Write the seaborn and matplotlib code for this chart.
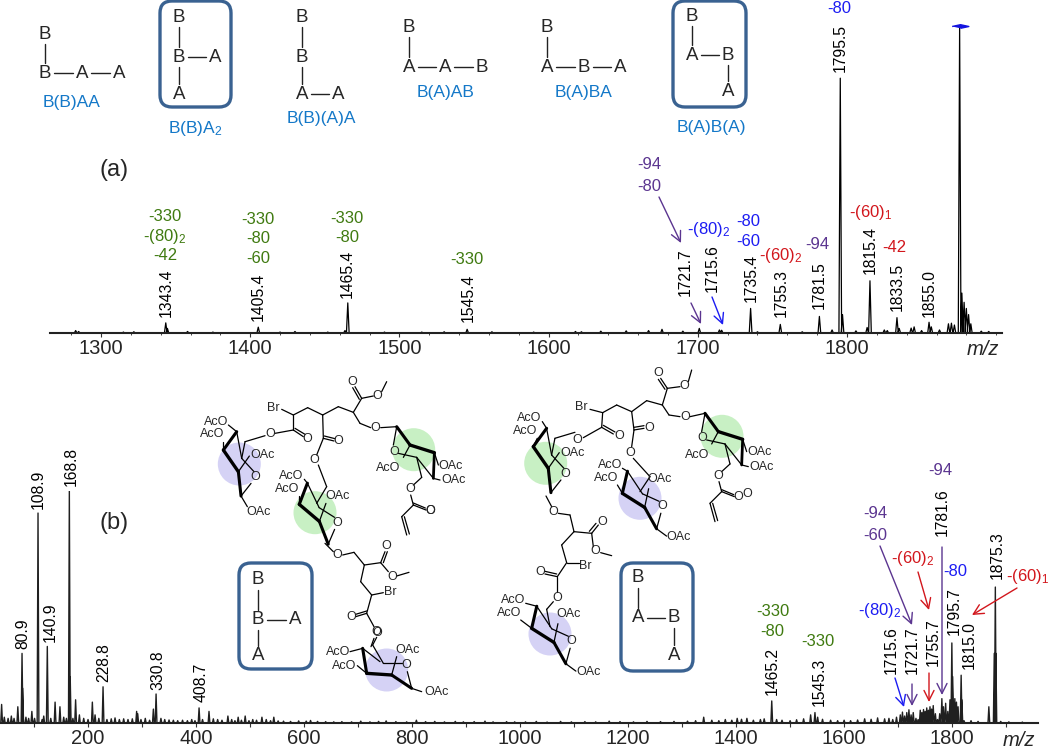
import math

import matplotlib
matplotlib.use("Agg")
import matplotlib.pyplot as plt
from matplotlib.patches import Circle, FancyBboxPatch
from matplotlib.ticker import MultipleLocator
import pandas as pd
import seaborn as sns

# spectrum (a), main peaks: position on the axis and relative height
peaks_a_mz = [1343.4, 1344.5, 1405.4, 1463.5, 1465.4, 1545.4, 1701.0, 1714.5, 1716.0, 1735.4,
              1755.3, 1781.5, 1795.5, 1797.0, 1815.4, 1813.5, 1825.0, 1827.0, 1833.5, 1835.0,
              1843.0, 1845.0, 1855.0, 1856.5, 1868.0, 1870.0, 1872.0, 1875.5, 1877.0, 1878.5,
              1880.0, 1881.5, 1883.0]
peaks_a_int = [3.3, 1.5, 1.9, 0.8, 9.8, 1.2, 1.5, 1.0, 0.9, 8.0,
               2.8, 5.4, 83.0, 6.0, 17.0, 1.8, 1.0, 0.8, 5.0, 1.5,
               1.6, 2.0, 3.5, 2.0, 3.0, 3.2, 2.6, 100.0, 13.0, 10.0,
               8.0, 6.0, 3.0]
noise_a_mz = [1283, 1285, 1315, 1322, 1358, 1375, 1420, 1430, 1452, 1490, 1515, 1530, 1562, 1590, 1618, 1622,
              1635, 1652, 1667, 1676, 1690, 1740, 1770, 1790, 1806, 1850, 1862, 1890, 1895]
noise_a_int = [0.8, 0.5, 0.3, 0.4, 0.5, 0.3, 0.3, 0.5, 0.3, 0.3, 0.3, 0.4, 0.4, 0.3, 0.5, 0.4,
               0.6, 0.7, 0.8, 1.2, 0.6, 0.4, 0.4, 1.0, 0.7, 0.8, 1.0, 0.6, 0.5]

# spectrum (b), main peaks
peaks_b_mz = [40, 70, 77.8, 79, 96, 107.4, 124.6, 139, 148, 165.4, 167, 177, 184, 208, 213, 227.8,
              290, 292, 321, 326, 405.6, 424, 459, 478, 491, 522, 544]
peaks_b_int = [8, 7, 30, 15, 5, 90.5, 33, 9, 7, 100, 20, 10, 3.5, 9, 3.5, 15.6,
               5, 4, 6, 12.5, 6.5, 5, 3, 2.5, 3, 2.5, 2.5]
peaks_b2_mz = [1340, 1402, 1466, 1538, 1546, 1551, 1868, 1878, 1880, 1881, 1799.5, 1801, 1816.7, 1818]
peaks_b2_int = [2.5, 2.0, 9.5, 3.5, 4.5, 2.5, 7, 30, 58.6, 30, 34.5, 20, 20.6, 10]

# crowded group of fragments between 1690 and 1830
crowd_mz = [1690, 1697, 1704, 1708, 1712, 1716, 1720, 1724, 1728, 1733, 1737, 1741, 1744, 1747, 1750, 1753,
            1756, 1759, 1762, 1765, 1769, 1773, 1777, 1781, 1784, 1788, 1792, 1796, 1805, 1808, 1811, 1822]
crowd_int = [1.5, 2.5, 3.5, 4.7, 3.0, 4.5, 5.7, 3.5, 4.5, 2.0, 1.5, 5.5, 4.5, 5.8, 5.0, 6.5,
             5.5, 7.0, 6.0, 7.5, 4.0, 1.5, 4.0, 10.5, 7.0, 8.5, 5.0, 10.0, 10.5, 9.0, 7.0, 1.0]

noise_b_mz = [45, 52, 58, 63, 85, 90, 101, 115, 118, 131, 155, 160, 172, 192, 200, 220, 235, 243, 250, 258,
              266, 274, 282, 298, 306, 314, 335, 342, 350, 358, 366, 375, 384, 392, 398, 412, 432, 440, 448, 466,
              472, 484, 498, 505, 512, 530, 538, 552, 562, 575, 590, 604, 612, 625, 640, 655, 670, 688, 705, 722,
              738, 752, 770, 790, 808, 825, 842, 860, 880, 895, 915, 935, 950, 975, 990, 1010, 1030, 1050, 1075, 1095,
              1120, 1140, 1165, 1185, 1210, 1235, 1260, 1285, 1310, 1325, 1355, 1368, 1380, 1392, 1410, 1420, 1432, 1445, 1452, 1475,
              1485, 1500, 1512, 1525, 1560, 1575, 1588, 1600, 1612, 1625, 1638, 1650, 1662, 1675, 1683, 1835, 1848, 1890, 1905, 1930]
noise_b_int = [2.5, 2, 3, 2, 2.5, 2, 2, 1.5, 3, 2, 2.5, 2, 2, 2, 1.5, 2, 1.5, 1.8, 2.2, 1.5,
               1.8, 1.5, 1.8, 1.5, 2, 1.2, 2, 1.5, 1.3, 1.2, 1, 1.2, 1, 1.5, 1, 1.5, 1.8, 1.5, 1.2, 1.5,
               1, 1.2, 1, 1.5, 1.2, 1.5, 1, 0.9, 0.8, 0.7, 0.9, 0.8, 1.1, 0.7, 0.6, 0.5, 0.6, 0.5, 0.8, 0.5,
               0.7, 0.9, 0.6, 0.5, 1.2, 0.6, 0.7, 0.5, 0.7, 0.5, 0.6, 0.8, 0.5, 0.6, 0.5, 0.5, 0.7, 0.4, 0.7, 0.5,
               0.6, 0.5, 0.8, 0.6, 0.5, 0.7, 0.6, 0.7, 0.8, 1.0, 1.2, 1.0, 1.5, 1.2, 1.6, 2.0, 1.2, 1.5, 1.8, 1.5,
               1.2, 1.0, 1.4, 1.8, 1.6, 1.2, 1.0, 1.2, 1.0, 1.3, 1.8, 1.6, 2.2, 1.8, 2.0, 1.0, 0.7, 0.7, 0.5, 0.4]

ticks_a = [1300, 1400, 1500, 1600, 1700, 1800]
ticks_b = [200, 400, 600, 800, 1000, 1200, 1400, 1600, 1800]

# peak labels: text, x, y in picture pixels
labels_a = [("1343.4", 166, 293), ("1405.4", 258, 297), ("1465.4", 347, 274), ("1545.4", 468, 298),
            ("1721.7", 685, 272), ("1715.6", 712, 268), ("1735.4", 751, 278), ("1755.3", 781, 293),
            ("1781.5", 819, 285), ("1795.5", 840, 48), ("1815.4", 870, 250), ("1833.5", 897, 287),
            ("1855.0", 929, 293)]
labels_b = [("80.9", 23, 634), ("108.9", 38, 489), ("140.9", 50, 622), ("168.8", 71, 466),
            ("228.8", 104, 663), ("330.8", 158, 670), ("408.7", 201, 682), ("1465.2", 772, 671),
            ("1545.3", 819, 682), ("1715.6", 891, 650), ("1721.7", 912, 650), ("1755.7", 933, 642),
            ("1781.6", 942, 512), ("1795.7", 954, 611), ("1815.0", 969, 645), ("1875.3", 997, 555)]

GREEN = "#3f7a10"
PURPLE = "#5b3590"
RED = "#d2161c"
BLUE = "#1c1cf2"
NAME_BLUE = "#1478c8"
FRAME = "#3a6291"

losses = [("-330", 165, 216, GREEN), ("-(80)$_2$", 165, 236, GREEN), ("-42", 165, 255, GREEN),
          ("-330", 258, 219, GREEN), ("-80", 258, 238, GREEN), ("-60", 258, 258, GREEN),
          ("-330", 347, 218, GREEN), ("-80", 347, 237, GREEN), ("-330", 467, 259, GREEN),
          ("-94", 649, 164, PURPLE), ("-80", 649, 186, PURPLE), ("-(80)$_2$", 709, 229, BLUE),
          ("-80", 748, 221, BLUE), ("-60", 748, 241, BLUE), ("-(60)$_2$", 781, 255, RED),
          ("-94", 817, 244, PURPLE), ("-(60)$_1$", 871, 212, RED), ("-42", 894, 247, RED),
          ("-80", 839, 8, BLUE),
          ("-330", 773, 612, GREEN), ("-80", 772, 632, GREEN), ("-330", 818, 641, GREEN),
          ("-94", 875, 514, PURPLE), ("-60", 875, 535, PURPLE), ("-94", 940, 470, PURPLE),
          ("-(60)$_2$", 913, 559, RED), ("-(80)$_2$", 880, 610, BLUE), ("-80", 955, 571, BLUE),
          ("-(60)$_1$", 1028, 576, RED)]

arrows = [((659, 197), (681, 243), PURPLE), ((691, 303), (701, 324), PURPLE), ((712, 297), (723, 325), BLUE),
          ((880, 546), (912, 625), PURPLE), ((918, 572), (929, 610), RED), ((1017, 588), (972, 615), RED),
          ((895, 678), (904, 707), BLUE), ((912, 684), (912, 706), PURPLE), ((929, 673), (929, 702), RED),
          ((942, 547), (942, 695), PURPLE)]

# linear schemes: letters, then bonds between letter indexes
schemes = [
    ([("B", 45, 34), ("B", 45, 73), ("A", 82, 73), ("A", 119, 73)], [(0, 1), (1, 2), (2, 3)]),
    ([("B", 179, 17), ("B", 179, 57), ("A", 215, 57), ("A", 179, 94)], [(0, 1), (1, 2), (1, 3)]),
    ([("B", 302, 17), ("B", 302, 57), ("A", 302, 94), ("A", 338, 94)], [(0, 1), (1, 2), (2, 3)]),
    ([("B", 409, 27), ("A", 409, 67), ("A", 445, 67), ("B", 482, 67)], [(0, 1), (1, 2), (2, 3)]),
    ([("B", 547, 27), ("A", 547, 67), ("B", 584, 67), ("A", 620, 67)], [(0, 1), (1, 2), (2, 3)]),
    ([("B", 692, 16), ("A", 692, 55), ("B", 728, 55), ("A", 728, 91)], [(0, 1), (1, 2), (2, 3)]),
    ([("B", 258, 580), ("B", 258, 620), ("A", 295, 620), ("A", 258, 656)], [(0, 1), (1, 2), (1, 3)]),
    ([("B", 638, 578), ("A", 638, 618), ("B", 674, 618), ("A", 674, 655)], [(0, 1), (1, 2), (2, 3)]),
]
scheme_names = [("B(B)AA", 72, 102), ("B(B)A$_2$", 195, 128), ("B(B)(A)A", 321, 118), ("B(A)AB", 446, 92),
                ("B(A)BA", 584, 92), ("B(A)B(A)", 711, 127)]
boxes = [(160, 1, 231, 107), (673, 1, 746, 107), (239, 563, 312, 669), (621, 563, 693, 671)]

# sugar ring drawing, in 1/3 px units around the first AcO label
PIVOT = (23, 85)
ring_bonds = [(63, 30, 23, 85, 2.2), (23, 85, 68, 150, 2.4), (68, 150, 76, 223, 2.2), (76, 223, 106, 185, 0.9),
              (63, 30, 78, 110, 0.9), (78, 110, 115, 150, 0.9), (68, 150, 101, 103, 0.9)]
oac_bond = (76, 223, 95, 255, 0.9)
tail_bonds = [(78, 110, 88, 60, 0.9), (88, 60, 148, 42, 0.9)]

sugar2_bonds = [(0, 0, -10, 55, 0.9), (0, 0, 40, 55, 2.2), (40, 55, 113, 78, 2.4), (113, 78, 110, 155, 2.0),
                (40, 55, 20, 92, 0.9), (5, 80, 60, 92, 0.9), (60, 92, 110, 155, 0.9), (60, 92, 75, 152, 0.9),
                (75, 152, 50, 175, 0.9), (42, 205, 50, 235, 0.9), (50, 235, 88, 250, 0.9), (50, 229, 86, 244, 0.9),
                (50, 235, 15, 270, 0.9), (15, 270, 30, 325, 0.9), (23, 270, 38, 322, 0.9), (113, 78, 125, 115, 0.9),
                (110, 155, 130, 160, 0.9)]
sugar2_text = [("O", -8, 75), ("AcO", -25, 125), ("OAc", 163, 117), ("OAc", 170, 160), ("O", 40, 188), ("O", 100, 252)]

struct1_bonds = [(315, 190, 370, 180), (370, 180, 400, 200), (375, 175, 405, 193), (370, 180, 370, 135),
                 (335, 118, 370, 135), (370, 135, 413, 113), (413, 113, 458, 135), (458, 135, 505, 110),
                 (505, 110, 550, 127), (550, 127, 575, 85), (575, 85, 555, 50), (568, 88, 548, 53),
                 (575, 85, 610, 78), (635, 65, 650, 35), (550, 127, 570, 160), (570, 160, 602, 173),
                 (632, 173, 680, 170), (458, 135, 460, 205), (460, 205, 492, 213), (463, 198, 495, 206),
                 (460, 205, 440, 255), (445, 285, 470, 350), (470, 350, 440, 400),
                 (465, 520, 490, 545), (518, 555, 552, 547), (552, 547, 583, 585), (583, 585, 632, 578),
                 (632, 578, 645, 545), (640, 578, 652, 545), (632, 578, 655, 605), (680, 618, 717, 607),
                 (583, 585, 572, 635), (572, 635, 605, 675), (605, 675, 640, 668), (605, 675, 590, 730),
                 (590, 730, 557, 740), (590, 723, 557, 733), (590, 730, 612, 770), (612, 805, 603, 830)]
struct1_text = [("Br", 310, 115), ("O", 300, 193), ("O", 413, 207), ("O", 505, 213), ("O", 548, 35), ("O", 623, 78),
                ("O", 617, 173), ("O", 433, 270), ("O", 503, 555), ("O", 650, 528), ("O", 668, 620),
                ("Br", 660, 665), ("O", 543, 740), ("O", 622, 788), ("O", 780, 422)]
struct2_bonds = [(340, 203, 395, 172), (395, 172, 430, 192), (400, 166, 435, 186), (395, 172, 398, 128),
                 (360, 118, 398, 128), (398, 128, 440, 105), (440, 105, 485, 125), (485, 125, 530, 92),
                 (530, 92, 577, 105), (577, 105, 592, 55), (592, 55, 572, 25), (585, 58, 565, 28),
                 (592, 55, 630, 50), (655, 35, 665, 0), (577, 105, 597, 135), (597, 135, 630, 140),
                 (660, 140, 705, 130), (485, 125, 492, 180), (492, 180, 522, 175), (492, 172, 522, 167),
                 (492, 180, 485, 230), (490, 265, 540, 320), (540, 320, 510, 365),
                 (228, 378, 245, 410), (265, 430, 300, 435), (300, 435, 312, 485), (312, 485, 365, 490),
                 (365, 490, 385, 465), (358, 484, 378, 460), (365, 490, 370, 530), (392, 548, 425, 557),
                 (312, 485, 275, 525), (275, 525, 290, 578), (290, 578, 328, 578), (290, 578, 262, 620),
                 (262, 620, 225, 612), (260, 612, 225, 604), (262, 620, 262, 665), (250, 695, 230, 718),
                 (230, 718, 240, 770)]
struct2_text = [("Br", 335, 110), ("O", 323, 210), ("O", 448, 198), ("O", 537, 175), ("O", 565, 10), ("O", 643, 47),
                ("O", 645, 142), ("O", 480, 248), ("O", 250, 425), ("O", 398, 455), ("O", 377, 542),
                ("Br", 347, 587), ("O", 210, 605), ("O", 262, 683), ("O", 833, 372)]
bottom_sugar_bonds = [(1130, 712, 1118, 735, 0.9), (1118, 735, 1150, 790, 0.9), (1150, 790, 1205, 790, 0.9),
                      (1050, 755, 1088, 745, 0.9), (1088, 745, 1140, 785, 0.9), (1088, 745, 1100, 820, 2.2),
                      (1072, 797, 1100, 820, 0.9), (1100, 820, 1175, 825, 2.4), (1175, 825, 1235, 865, 2.2),
                      (1235, 865, 1222, 815, 0.9), (1235, 865, 1265, 875, 0.9), (1175, 825, 1190, 770, 0.9)]
bottom_sugar_text = [("AcO", 1013, 757), ("AcO", 1033, 797), ("OAc", 1222, 750), ("O", 1218, 795),
                     ("OAc", 1310, 875), ("O", 1130, 697)]

LAVENDER = "#d5d2f5"
MINT = "#c8f0c4"
TEXT_SIZE = 9


def stick_table(mz, intensity, half_width):
    rows = []
    for m, h in sorted(zip(mz, intensity)):
        rows += [(m - half_width, 0), (m, h), (m + half_width, 0)]
    return pd.DataFrame(rows, columns=["mz", "intensity"])


def draw_spectrum(ax, table, lw):
    sns.lineplot(data=table, x="mz", y="intensity", ax=ax, color="black", lw=lw,
                 estimator=None, sort=False, errorbar=None)
    ax.set_xlabel("")
    ax.set_ylabel("")
    ax.set_yticks([])
    ax.set_ylim(0, 100)
    ax.patch.set_alpha(0)
    sns.despine(ax=ax, left=True)
    ax.spines["bottom"].set_linewidth(1.5)
    ax.spines["bottom"].set_color("#222222")
    ax.tick_params(axis="x", labelsize=14.5, length=3, width=0.8, pad=1.5, color="#333333")


def sugar(ov, x, y, center, color, angle=0, ac_dx=0, oac=True, tail=False, side_dy=0):
    # ring is turned around its left corner, the AcO labels stay put
    a = math.radians(angle)

    def turn(px, py):
        dx, dy = px - PIVOT[0], py - PIVOT[1]
        return (x + (PIVOT[0] + dx * math.cos(a) - dy * math.sin(a)) / 3,
                y + (PIVOT[1] + dx * math.sin(a) + dy * math.cos(a)) / 3)

    ov.add_patch(Circle(center, 21.5, color=color, lw=0, zorder=1))
    bonds = list(ring_bonds)
    if oac:
        bonds.append(oac_bond)
    if tail:
        bonds += tail_bonds
    for x0, y0, x1, y1, lw in bonds:
        p0, p1 = turn(x0, y0), turn(x1, y1)
        ov.plot([p0[0], p1[0]], [p0[1], p1[1]], color="black", lw=lw, zorder=2, solid_capstyle="round")
    p = turn(141, 90)
    ov.text(p[0], p[1] + side_dy, "OAc", fontsize=TEXT_SIZE, ha="center", va="center", zorder=3)
    p = turn(118, 167)
    ov.text(p[0], p[1], "O", fontsize=TEXT_SIZE, ha="center", va="center", zorder=3)
    if oac:
        p = turn(128, 272)
        ov.text(p[0], p[1], "OAc", fontsize=TEXT_SIZE, ha="center", va="center", zorder=3)
    # AcO labels and their short bonds
    ov.text(x - ac_dx, y, "AcO", fontsize=TEXT_SIZE, ha="center", va="center", zorder=3)
    ov.text(x - 4 - ac_dx, y + 12.7, "AcO", fontsize=TEXT_SIZE, ha="center", va="center", zorder=3)
    p = turn(63, 30)
    ov.plot([x + 12.7 - ac_dx, p[0]], [y + 3.3, p[1]], color="black", lw=0.9, zorder=2)
    ov.plot([x + 7.7 - ac_dx, x + 7.7], [y + 20, y + 28.3], color="black", lw=0.9, zorder=2)


def sugar2(ov, x, y):
    ov.add_patch(Circle((x + 17, y + 23), 21.5, color=MINT, lw=0, zorder=1))
    for x0, y0, x1, y1, lw in sugar2_bonds:
        ov.plot([x + x0 / 3, x + x1 / 3], [y + y0 / 3, y + y1 / 3], color="black", lw=lw, zorder=2,
                solid_capstyle="round")
    for t, dx, dy in sugar2_text:
        ov.text(x + dx / 3, y + dy / 3, t, fontsize=TEXT_SIZE, ha="center", va="center", zorder=3)


def chain(ov, x, y, bonds, texts):
    for x0, y0, x1, y1 in bonds:
        ov.plot([x + x0 / 3, x + x1 / 3], [y + y0 / 3, y + y1 / 3], color="black", lw=0.9, zorder=2)
    for t, tx, ty in texts:
        ov.text(x + tx / 3, y + ty / 3, t, fontsize=TEXT_SIZE, ha="center", va="center", zorder=3)


sns.set_theme(style="ticks")
plt.rcParams["font.family"] = ["Liberation Sans", "DejaVu Sans"]
plt.rcParams["mathtext.default"] = "regular"

W, H = 1050, 748
fig = plt.figure(figsize=(W / 100, H / 100), dpi=100)
fig.patch.set_facecolor("white")

# spectrum (a)
ax_a = fig.add_axes([50 / W, 1 - 333 / H, 952 / W, 307 / H])
table_a = stick_table(peaks_a_mz + noise_a_mz, peaks_a_int + noise_a_int, 0.9)
draw_spectrum(ax_a, table_a, 0.9)
ax_a.set_xlim(1265.8, 1903.9)
ax_a.set_xticks(ticks_a)
ax_a.xaxis.set_minor_locator(MultipleLocator(20))
ax_a.tick_params(axis="x", which="minor", length=1.5, width=0.6)
ax_a.plot([1875.5], [100], marker=[(-6, 0), (0, 1.3), (6, 0), (0, -1.3)], ms=12, color="#1414e0",
          clip_on=False, ls="none")

# spectrum (b)
ax_b = fig.add_axes([0, 1 - 723 / H, 1038 / W, 232 / H])
table_b = stick_table(peaks_b_mz + peaks_b2_mz + crowd_mz + noise_b_mz,
                      peaks_b_int + peaks_b2_int + crowd_int + noise_b_int, 1.6)
draw_spectrum(ax_b, table_b, 1.0)
ax_b.set_xlim(37, 1959)
ax_b.set_xticks(ticks_b)
ax_b.xaxis.set_minor_locator(MultipleLocator(100))
ax_b.tick_params(axis="x", which="minor", length=3, width=0.8, color="#333333")
for line in ax_b.get_lines():
    line.set_color("#202020")

# everything drawn on top, in picture pixels
ov = fig.add_axes([0, 0, 1, 1])
ov.set_xlim(0, W)
ov.set_ylim(H, 0)
ov.axis("off")
ov.patch.set_alpha(0)

for t, x, y in labels_a + labels_b:
    ov.text(x, y, t, rotation=90, fontsize=11.3, ha="center", va="center", color="black")
for t, x, y, c in losses:
    ov.text(x, y, t, fontsize=12, ha="center", va="center", color=c)
for start, end, c in arrows:
    ov.annotate("", xy=end, xytext=start,
                arrowprops=dict(arrowstyle="->,head_length=0.6,head_width=0.3", color=c, lw=1.0,
                                shrinkA=0, shrinkB=0))

for letters, bonds in schemes:
    for i, j in bonds:
        _, x0, y0 = letters[i]
        _, x1, y1 = letters[j]
        gap_x = 9 if x1 > x0 else 0
        gap_y = 10 if y1 > y0 else 0
        ov.plot([x0 + gap_x, x1 - gap_x], [y0 + gap_y, y1 - gap_y], color="#222222", lw=1.0)
    for t, x, y in letters:
        ov.text(x, y, t, fontsize=13.5, ha="center", va="center")
for t, x, y in scheme_names:
    ov.text(x, y, t, fontsize=12.5, ha="center", va="center", color=NAME_BLUE)
for x0, y0, x1, y1 in boxes:
    ov.add_patch(FancyBboxPatch((x0 + 10, y0 + 10), x1 - x0 - 20, y1 - y0 - 20,
                                boxstyle="round,pad=10,rounding_size=12", fc="none", ec=FRAME, lw=2.4))

ov.text(114, 170, "(a)", fontsize=17, ha="center", va="center")
ov.text(114, 523, "(b)", fontsize=17, ha="center", va="center")
ov.text(983, 349, "m/z", fontsize=14.5, style="italic", ha="center", va="center")
ov.text(1019, 740, "m/z", fontsize=14.5, style="italic", ha="center", va="center")

# structure on the left
sugar(ov, 215.7, 421.7, (239.3, 464), LAVENDER, tail=True, side_dy=3)
sugar(ov, 291.6, 476, (315, 512.7), MINT, angle=-15, oac=False)
chain(ov, 170, 370, struct1_bonds, struct1_text)
sugar2(ov, 396.7, 426.7)
ov.add_patch(Circle((1160 / 3, 400 + 810 / 3), 21.5, color=LAVENDER, lw=0, zorder=1))
for x0, y0, x1, y1, lw in bottom_sugar_bonds:
    ov.plot([x0 / 3, x1 / 3], [400 + y0 / 3, 400 + y1 / 3], color="black", lw=lw, zorder=2,
            solid_capstyle="round")
for t, x, y in bottom_sugar_text:
    ov.text(x / 3, 400 + y / 3, t, fontsize=TEXT_SIZE, ha="center", va="center", zorder=3)

# structure on the right
sugar(ov, 525.6, 418.3, (545.7, 463.3), MINT, ac_dx=-4, oac=False, tail=True, side_dy=5)
sugar(ov, 614.7, 465, (640, 498.3), LAVENDER, angle=-23, ac_dx=5)
sugar(ov, 524, 600, (550, 634), LAVENDER, angle=-23, ac_dx=11)
chain(ov, 470, 370, struct2_bonds, struct2_text)
sugar2(ov, 705, 413.3)

fig.savefig("out.png", dpi=100, facecolor="white")
